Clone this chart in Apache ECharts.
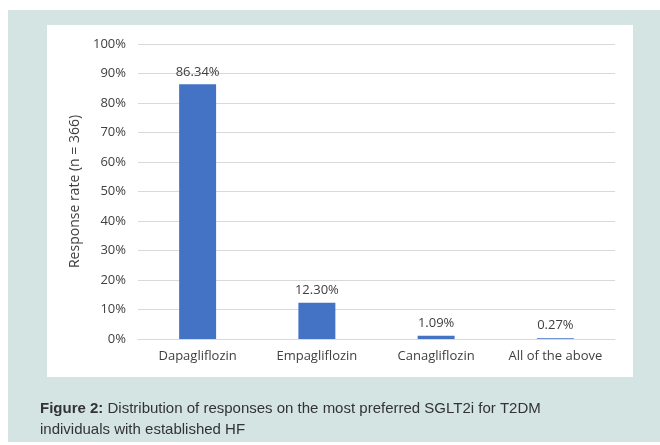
<!DOCTYPE html>
<html>
<head>
<meta charset="utf-8">
<script src="https://cdn.jsdelivr.net/npm/echarts@6/dist/echarts.min.js"></script>
<style>
  html, body { margin: 0; padding: 0; background: #fff; }
  #chart { width: 660px; height: 445px; }
</style>
</head>
<body>
<div id="chart"></div>
<script>
// 数据
var categories = ['Dapagliflozin', 'Empagliflozin', 'Canagliflozin', 'All of the above'];
var responseRates = [86.34, 12.30, 1.09, 0.27];
var yTicks = [0, 10, 20, 30, 40, 50, 60, 70, 80, 90, 100];

var renderBarChart = function () {
  var option = {
    backgroundColor: '#fff',
    animation: false,
    textStyle: { fontFamily: 'Open Sans' },
    graphic: [
      {
        type: 'rect',
        z: -10,
        shape: { x: 8, y: 10, width: 652, height: 432 },
        style: { fill: '#d4e4e3' }
      },
      {
        type: 'rect',
        z: -9,
        shape: { x: 47, y: 25, width: 586, height: 352 },
        style: { fill: '#fff' }
      },
      {
        type: 'text',
        left: 40,
        top: 398,
        style: {
          text: '{b|Figure 2:} Distribution of responses on the most preferred SGLT2i for T2DM\nindividuals with established HF',
          fontFamily: 'Liberation Sans',
          fontSize: 15,
          lineHeight: 21,
          fill: '#333',
          rich: {
            b: { fontWeight: 'bold', fontFamily: 'Liberation Sans', fontSize: 15, fill: '#333' }
          }
        }
      }
    ],
    grid: {
      left: 138,
      right: 45,
      top: 44,
      bottom: 106
    },
    xAxis: {
      type: 'category',
      data: categories,
      axisTick: { show: false },
      axisLine: { lineStyle: { color: '#d9d9d9' } },
      axisLabel: { color: '#404040', fontSize: 13, margin: 11, interval: 0, hideOverlap: false }
    },
    yAxis: {
      type: 'value',
      min: 0,
      max: 100,
      interval: 10,
      name: 'Response rate (n = 366)',
      nameLocation: 'middle',
      nameGap: 53,
      nameTextStyle: { color: '#404040', fontSize: 14 },
      axisLine: { show: false },
      axisTick: { show: false },
      splitLine: { lineStyle: { color: '#d9d9d9' } },
      axisLabel: {
        color: '#404040',
        fontSize: 13,
        margin: 12,
        formatter: function (v) { return yTicks.indexOf(v) >= 0 ? v + '%' : ''; }
      }
    },
    series: [
      {
        type: 'bar',
        data: responseRates,
        barWidth: '31%',
        itemStyle: { color: '#4472c4' },
        label: {
          show: true,
          position: 'top',
          distance: 6,
          color: '#404040',
          fontSize: 13,
          formatter: function (p) { return p.value.toFixed(2) + '%'; }
        }
      }
    ]
  };

  var myChart = echarts.init(document.getElementById('chart'));
  myChart.setOption(option);
};

renderBarChart();
</script>
</body>
</html>
